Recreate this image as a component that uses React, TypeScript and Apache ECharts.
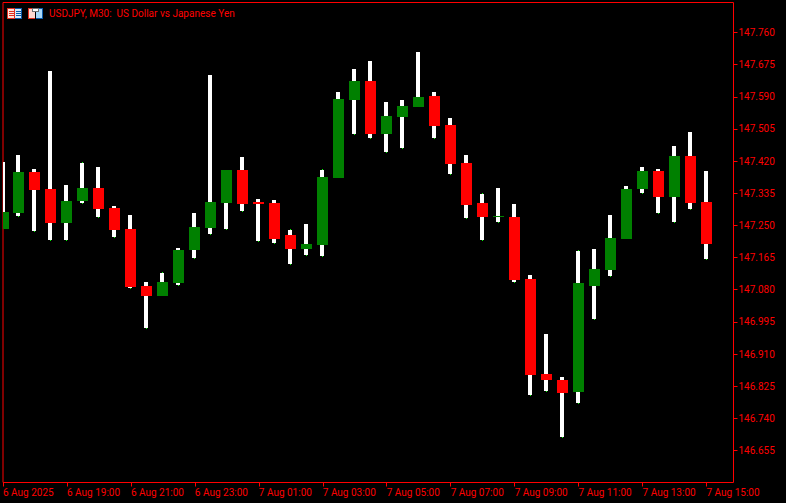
import React, { useEffect, useRef } from "react";
import * as echarts from "echarts";

const opens = [147.24,147.283,147.391,147.346,147.256,147.314,147.349,147.296,147.24,147.09,147.063,147.098,147.185,147.243,147.309,147.396,147.312,147.309,147.225,147.188,147.198,147.375,147.582,147.632,147.492,147.537,147.563,147.592,147.515,147.415,147.309,147.272,147.272,147.108,146.857,146.841,146.81,147.09,147.132,147.214,147.346,147.394,147.325,147.433,147.312];
const closes = [147.285,147.391,147.344,147.256,147.314,147.349,147.293,147.238,147.087,147.063,147.1,147.185,147.246,147.312,147.396,147.307,147.307,147.214,147.188,147.201,147.378,147.584,147.632,147.492,147.539,147.566,147.589,147.513,147.412,147.304,147.272,147.275,147.106,146.854,146.841,146.807,147.098,147.135,147.217,147.346,147.394,147.325,147.433,147.309,147.201];
const highs = [147.418,147.436,147.399,147.658,147.357,147.415,147.404,147.301,147.277,147.1,147.124,147.19,147.283,147.648,147.396,147.431,147.32,147.317,147.238,147.254,147.396,147.603,147.664,147.685,147.576,147.582,147.708,147.603,147.534,147.436,147.333,147.349,147.307,147.119,146.963,146.849,147.182,147.188,147.277,147.354,147.404,147.399,147.46,147.497,147.394];
const lows = [147.24,147.275,147.235,147.211,147.211,147.309,147.272,147.219,147.084,146.979,147.063,147.092,147.164,147.227,147.24,147.288,147.209,147.203,147.148,147.172,147.169,147.375,147.492,147.481,147.444,147.455,147.563,147.481,147.386,147.27,147.211,147.259,147.1,146.802,146.812,146.691,146.78,147.002,147.116,147.214,147.336,147.283,147.259,147.293,147.161];
const priceTicks = [147.76,147.675,147.59,147.505,147.42,147.335,147.25,147.165,147.08,146.995,146.91,146.825,146.74,146.655];
const timeTickIndex = [0,4,8,12,16,20,24,28,32,36,40,44];
const timeTickLabels = ["6 Aug 2025","6 Aug 19:00","6 Aug 21:00","6 Aug 23:00","7 Aug 01:00","7 Aug 03:00","7 Aug 05:00","7 Aug 07:00","7 Aug 09:00","7 Aug 11:00","7 Aug 13:00","7 Aug 15:00"];
const title = "USDJPY, M30:  US Dollar vs Japanese Yen";
const limeTopIndex = [5,10,18,20,30,36];

const RED = "#ff0000";
const GREEN = "#008000";
const FONT = "Roboto, 'Liberation Sans', sans-serif";

const rect = (x: number, y: number, width: number, height: number, fill: string) => ({
  type: "rect",
  shape: { x, y, width, height },
  style: { fill },
  silent: true,
});

const icons = [
  rect(7, 8, 8, 11, "#e03020"),
  rect(15, 8, 7, 11, "#0a5aa8"),
  rect(8, 9, 6, 9, "#ffe4dc"),
  rect(15, 9, 6, 9, "#d8ecfa"),
  rect(9, 11, 5, 1, "#e03020"),
  rect(9, 13, 5, 1, "#e03020"),
  rect(9, 15, 5, 1, "#e03020"),
  rect(16, 11, 5, 1, "#0a5aa8"),
  rect(16, 13, 5, 1, "#0a5aa8"),
  rect(16, 15, 5, 1, "#0a5aa8"),
  rect(28, 8, 7, 11, "#e03020"),
  rect(36, 8, 7, 11, "#0a5aa8"),
  rect(29, 9, 6, 9, "#ffd8d0"),
  rect(36, 9, 6, 9, "#a8d8f8"),
  rect(32, 8, 7, 4, "#707070"),
  rect(33, 9, 5, 2, "#ffffff"),
];

function renderCandle(params: any, api: any) {
  const i = api.value(0);
  const o = api.value(1);
  const c = api.value(2);
  const l = api.value(3);
  const h = api.value(4);
  const cx = Math.floor(api.coord([i, o])[0]);
  const yOf = (v: number) => Math.round(api.coord([i, v])[1]);
  const yH = yOf(h);
  const yL = yOf(l);
  const yTop = yOf(Math.max(o, c));
  const yBot = yOf(Math.min(o, c));
  const children: any[] = [
    rect(cx - 2, yH, 4, Math.max(yL - yH, 1), "#ffffff"),
    rect(cx - 5, yTop, 11, Math.max(yBot - yTop, 1), c >= o ? GREEN : RED),
  ];
  if (l < Math.min(o, c)) children.push(rect(cx, yL, 1, 1, "#00ff00"));
  if (limeTopIndex.includes(i)) children.push(rect(cx, yH - 1, 1, 1, "#00ff00"));
  return { type: "group", children };
}

export default function App() {
  const ref = useRef<HTMLDivElement>(null);
  useEffect(() => {
    document.body.style.margin = "0";
    document.body.style.background = "#000";
    const chart = echarts.init(ref.current!, null, { renderer: "svg" });
    chart.setOption({
      animation: false,
      backgroundColor: "#000000",
      grid: {
        left: 2.5,
        top: 2.5,
        width: 731,
        height: 480,
        show: true,
        backgroundColor: "#000000",
        borderColor: RED,
        borderWidth: 1,
      },
      xAxis: {
        type: "value",
        min: 0,
        max: 731 / 16,
        splitLine: { show: false },
        axisLine: { show: false, onZero: false },
        axisTick: { show: true, length: 4, customValues: timeTickIndex, lineStyle: { color: RED, width: 1 } },
        axisLabel: {
          customValues: timeTickIndex,
          color: RED,
          fontFamily: FONT,
          fontSize: 10,
          margin: 5,
          align: "left",
          hideOverlap: false,
          showMinLabel: true,
          showMaxLabel: true,
          formatter: (v: number) => timeTickLabels[timeTickIndex.indexOf(v)] ?? "",
        },
      },
      yAxis: {
        type: "value",
        position: "right",
        min: 146.5704,
        max: 147.8393,
        splitLine: { show: false },
        axisLine: { show: false, onZero: false },
        axisTick: { show: true, length: 4, customValues: priceTicks, lineStyle: { color: RED, width: 1 } },
        axisLabel: {
          customValues: priceTicks,
          color: RED,
          fontFamily: FONT,
          fontSize: 10,
          margin: 5,
          hideOverlap: false,
          showMinLabel: true,
          showMaxLabel: true,
          formatter: (v: number) => v.toFixed(3),
        },
      },
      series: [
        {
          type: "custom",
          clip: true,
          silent: true,
          renderItem: renderCandle,
          encode: { x: 0, y: [1, 2, 3, 4] },
          data: opens.map((o, i) => [i, o, closes[i], lows[i], highs[i]]),
        },
      ],
      graphic: [
        ...icons,
        {
          type: "text",
          x: 49,
          y: 13.5,
          silent: true,
          style: { text: title, fill: RED, font: `10px ${FONT}`, textVerticalAlign: "middle" },
        },
      ],
    });
    return () => chart.dispose();
  }, []);
  return <div ref={ref} style={{ position: "fixed", left: 0, top: 0, width: 786, height: 503 }} />;
}
